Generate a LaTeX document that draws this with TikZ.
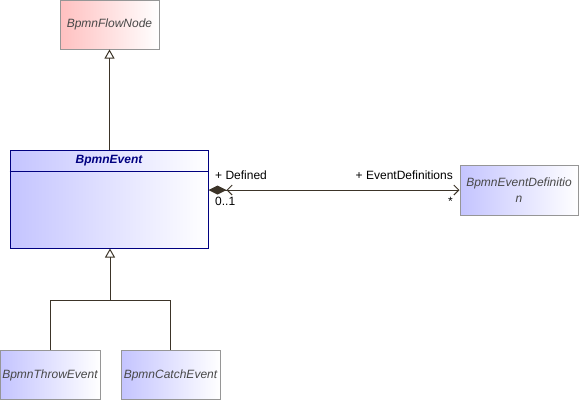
\documentclass[tikz,border=0pt]{standalone}
\usepackage{fontspec}
\setmainfont{Liberation Sans}
\usepackage{tikz}
\usetikzlibrary{arrows.meta,positioning}
\usepackage{color}
\definecolor{umlnavy}{RGB}{0,0,128}
\definecolor{umlgray}{RGB}{150,150,150}
\definecolor{umlline}{RGB}{60,52,40}
\definecolor{umlpink}{RGB}{255,192,192}
\definecolor{umlblue}{RGB}{196,196,255}
\definecolor{umltext}{RGB}{72,72,72}

\begin{document}
\begin{tikzpicture}[x=1pt,y=-1pt,
    classbox/.style={draw=umlgray, line width=1pt, left color=umlblue, right color=white,
      minimum width=99pt, minimum height=49pt, inner sep=1pt, align=center,
      font=\fontsize{12}{16}\selectfont\itshape, text=umltext},
    genline/.style={draw=umlline, line width=1pt},
    roleline/.style={font=\fontsize{12}{13}\selectfont, text=black, inner sep=1pt}]
      \useasboundingbox (0,0) rectangle (579,400);
      % classes
      \node[classbox, left color=umlpink] (flownode) at (109.5,24.5) {BpmnFlowNode};
      \node[classbox, draw=umlnavy, minimum width=198pt, minimum height=98pt] (event) at (109,199) {};
      \node[font=\fontsize{12}{16}\selectfont\bfseries\itshape, text=umlnavy] (eventname) at (109,161) {BpmnEvent};
      \draw[umlnavy, line width=1pt] (event.west |- 0,171) -- (event.east |- 0,171);
      \node[classbox, minimum width=100pt] (throwevt) at (50,375) {BpmnThrowEvent};
      \node[classbox] (catchevt) at (170.5,375) {BpmnCatchEvent};
      \node[classbox, minimum width=118pt, minimum height=50pt] (evtdef) at (519,190) {BpmnEventDefinitio\\n};
      % generalizations
      \coordinate (joint) at (110,300);
      \draw[genline, -{Triangle[open, length=9pt, width=10pt]}] (event.north -| flownode.south) -- (flownode.south);
      \draw[genline] (throwevt.north) |- (joint);
      \draw[genline] (catchevt.north) |- (joint);
      \draw[genline, -{Triangle[open, length=9pt, width=10pt]}] (joint) -- (event.south -| joint);
      % association
      \draw[genline, {Diamond[fill=umlline, length=18pt, width=9pt] Straight Barb[length=5pt, width=10pt]}-{Straight Barb[length=5pt, width=10pt]}]
        (event.east |- evtdef.west) -- (evtdef.west);
      \node[roleline, anchor=south west] (defined) at (214,181) {+ Defined};
      \node[roleline, anchor=north west] (mult) at (214,196) {0..1};
      \node[roleline, anchor=south east] (evtdefs) at (454,181) {+ EventDefinitions};
      \node[roleline, anchor=north east] (star) at (454,196) {*};
\end{tikzpicture}
\end{document}
